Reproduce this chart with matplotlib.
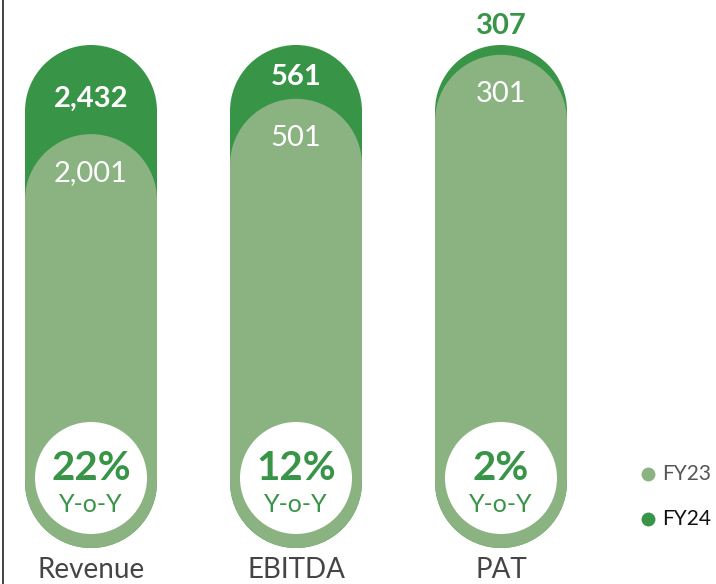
import matplotlib
matplotlib.use("Agg")
import matplotlib.pyplot as plt
from matplotlib.patches import Ellipse
from matplotlib.lines import Line2D

# ---- data ----
categories = ["Revenue", "EBITDA", "PAT"]
fy23 = [2001, 501, 301]
fy24 = [2432, 561, 307]
fy23_labels = ["2,001", "501", "301"]
fy24_labels = ["2,432", "561", "307"]
yoy_labels = ["22%", "12%", "2%"]
series_names = ["FY23", "FY24"]

# ---- style ----
DARK = "#389447"
LIGHT = "#8ab381"
W, H = 716, 584
plt.rcParams['font.family'] = ['Lato', 'DejaVu Sans']

fig = plt.figure(figsize=(W / 100, H / 100), dpi=100)
ax = fig.add_axes([0, 0, 1, 1])
ax.axis("off")

# pixel layout -> data scale
x0_px, dx_px = 91, 205          # center of first pill, spacing
base_px, top_px = 548, 45       # value 0 / value 1 (from top)
unit_px = base_px - top_px
ax.set_xlim(-x0_px / dx_px, (W - x0_px) / dx_px)
ax.set_ylim(-(H - base_px) / unit_px, base_px / unit_px)

rx = 66 / dx_px
ry = 66 / unit_px


def pill(x, h, color, z):
    ax.bar(x, h - 2 * ry, bottom=ry, width=2 * rx, color=color, linewidth=0, zorder=z)
    for cy in (ry, h - ry):
        ax.add_patch(Ellipse((x, cy), 2 * rx, 2 * ry, facecolor=color, edgecolor="none", zorder=z))


def px(p):  # pixel offset to value units
    return p / unit_px


for i, cat in enumerate(categories):
    h24 = 1.0
    h23 = fy23[i] / fy24[i]
    pill(i, h24, DARK, 1)
    pill(i, h23, LIGHT, 2)

    # white circle
    cy = px(70)
    ax.add_patch(Ellipse((i, cy), 112 / dx_px, 112 / unit_px, facecolor="white", edgecolor="none", zorder=3))
    ax.text(i, cy + px(10), yoy_labels[i], ha="center", va="center", fontsize=29,
            fontweight="bold", color=DARK, zorder=4)
    ax.text(i, cy - px(26), "Y-o-Y", ha="center", va="center", fontsize=18,
            color=DARK, zorder=4)

    # FY23 label
    ax.text(i, h23 - px(39), fy23_labels[i], ha="center", va="center", fontsize=21,
            color="white", zorder=4)
    # FY24 label
    gap = h24 - h23
    if gap > px(40):
        ax.text(i, h24 - 0.6 * gap, fy24_labels[i], ha="center", va="center", fontsize=21,
                fontweight="bold", color="white", zorder=4)
    else:
        ax.text(i, h24 + px(19), fy24_labels[i], ha="center", va="center", fontsize=21,
                fontweight="bold", color=DARK, zorder=4)

    # category label
    ax.text(i, -px(35.5), cat, ha="center", va="bottom", fontsize=20, color="#454545", zorder=4)

# legend
lx = (648 - x0_px) / dx_px
for j, (name, col, tcol) in enumerate(zip(series_names, [LIGHT, DARK], ["#555555", "#111111"])):
    ly = (base_px - (474 + 45 * j)) / unit_px
    ax.plot([lx], [ly], marker="o", markersize=10, color=col, markeredgewidth=0, zorder=5)
    ax.text(lx + 14 / dx_px, ly, name, ha="left", va="center", fontsize=15, color=tcol, zorder=5)

# left border
fig.add_artist(Line2D([2.5 / W, 2.5 / W], [0, 1], color="#222222", linewidth=1.2))

fig.savefig("out.png", dpi=100)
